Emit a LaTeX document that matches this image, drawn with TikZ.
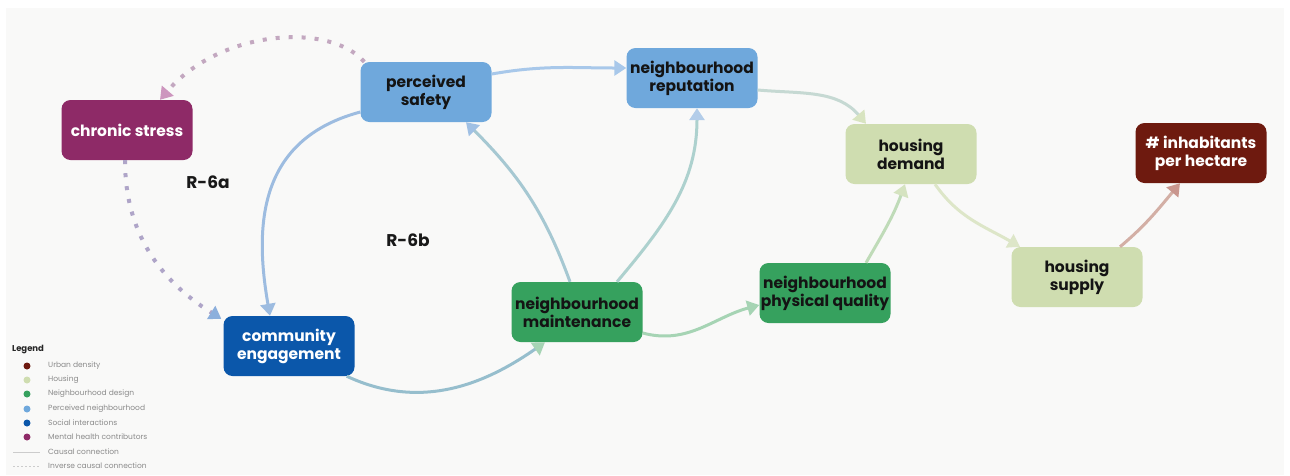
\documentclass[tikz,border=0pt]{standalone}
\usepackage{fontspec}
\setmainfont{Poppins}
\usetikzlibrary{arrows.meta}
\definecolor{bgc}{HTML}{F9F9F8}
\definecolor{cpurple}{HTML}{8E2A67}
\definecolor{cblue}{HTML}{6FA8DC}
\definecolor{csage}{HTML}{CFDDB0}
\definecolor{cmaroon}{HTML}{6E1A0F}
\definecolor{cgreen}{HTML}{36A15E}
\definecolor{cnavy}{HTML}{0B57AA}
\definecolor{legtxt}{HTML}{8A8A8A}
% edge colours
\definecolor{ePSNR}{HTML}{A8C8EA}
\definecolor{eNRHD}{HTML}{C6D9D3}
\definecolor{aNRHD}{HTML}{D8E4C0}
\definecolor{eHDHS}{HTML}{DDE6C8}
\definecolor{eHSIN}{HTML}{D3AFA5}
\definecolor{aHSIN}{HTML}{C9968E}
\definecolor{ePQHD}{HTML}{BFDBB8}
\definecolor{aPQHD}{HTML}{D5E3C0}
\definecolor{eMTPQ}{HTML}{A6D4B4}
\definecolor{eMTNR}{HTML}{ADD1CE}
\definecolor{aMTNR}{HTML}{B3CDE9}
\definecolor{eMTPS}{HTML}{A6C8D2}
\definecolor{aMTPS}{HTML}{A0C0E4}
\definecolor{ePSCE}{HTML}{9DBCE0}
\definecolor{eCEMT}{HTML}{96BECD}
\definecolor{aCEMT}{HTML}{A6D4B4}
\definecolor{ePSCS}{HTML}{C3A8C0}
\definecolor{aPSCS}{HTML}{CD96BE}
\definecolor{eCSCE}{HTML}{AFA5C8}
\definecolor{aCSCE}{HTML}{8CAFDC}
\tikzset{
  box/.style={rounded corners=9pt, minimum width=131pt, minimum height=60pt,
    align=center, inner sep=0pt, font=\bfseries\fontsize{15.5}{18}\selectfont},
  conn/.style={line width=3pt, draw=#1, -{Triangle[length=12pt,width=15pt]}},
  connab/.style 2 args={line width=3pt, draw=#1, -{Triangle[length=12pt,width=15pt,color=#2]}},
  dotconn/.style 2 args={line width=4pt, draw=#1, dash pattern=on 4pt off 9pt,
    -{Triangle[length=12pt,width=15pt,color=#2]}},
  legdot/.style={circle, inner sep=0pt, minimum size=7pt},
  legtext/.style={anchor=west, inner sep=0pt, text=legtxt, font=\fontsize{7.5}{9}\selectfont},
  looplabel/.style={font=\bfseries\fontsize{17}{19}\selectfont, text=black!90}
}
\begin{document}
\begin{tikzpicture}[x=1pt,y=-1pt]
\useasboundingbox (0,0) rectangle (1290,475);
\fill[white] (0,0) rectangle (1290,475);
\fill[bgc] (6,8) rectangle (1284,475);

% nodes
\node[box, fill=cpurple, text=white] (cs) at (127,130) {chronic stress};
\node[box, fill=cblue, text=black!92] (ps) at (426,92) {perceived\\safety};
\node[box, fill=cblue, text=black!92] (nr) at (692,78) {neighbourhood\\reputation};
\node[box, fill=csage, text=black!92] (hd) at (911,154) {housing\\demand};
\node[box, fill=cmaroon, text=white] (inh) at (1201,153) {\# inhabitants\\per hectare};
\node[box, fill=csage, text=black!92] (hs) at (1077,277) {housing\\supply};
\node[box, fill=cgreen, text=black!92] (pq) at (825,293) {neighbourhood\\physical quality};
\node[box, fill=cgreen, text=black!92] (mt) at (577,312) {neighbourhood\\maintenance};
\node[box, fill=cnavy, text=white] (ce) at (289,346) {community\\engagement};

\node[looplabel] (r6a) at (208,182) {R-6a};
\node[looplabel] (r6b) at (408,240) {R-6b};

% connectors
\draw[conn=ePSNR] ([yshift=18pt]ps.east) to[out=10,in=180] ([yshift=10pt]nr.west);
\draw[connab={eNRHD}{aNRHD}] ([yshift=-12pt]nr.east) to[out=-5,in=130] ([xshift=-45pt]hd.north);
\draw[conn=eHDHS] ([xshift=24pt]hd.south) to[out=-55,in=150] ([xshift=-57pt]hs.north);
\draw[connab={eHSIN}{aHSIN}] ([xshift=43pt]hs.north) to[out=40,in=-130] ([xshift=-21pt]inh.south);
\draw[connab={ePQHD}{aPQHD}] ([xshift=41pt]pq.north) to[out=60,in=-110] ([xshift=-6pt]hd.south);
\draw[conn=eMTPQ] ([yshift=-21pt]mt.east) to[out=-15,in=195] ([yshift=-12pt]pq.west);
\draw[connab={eMTNR}{aMTNR}] ([xshift=40pt]mt.north) to[out=50,in=-90] ([xshift=5pt]nr.south);
\draw[connab={eMTPS}{aMTPS}] ([xshift=-7pt]mt.north) to[out=110,in=-45] ([xshift=40pt]ps.south);
\draw[conn=ePSCE] ([yshift=-20pt]ps.west) to[out=195,in=100,looseness=1.15] ([xshift=-19pt]ce.north);
\draw[connab={eCEMT}{aCEMT}] ([xshift=-8pt]ce.south east) to[out=-25,in=215] ([xshift=-32pt]mt.south);
\draw[dotconn={ePSCS}{aPSCS}] ([xshift=4pt]ps.north west) .. controls +(-35,-40) and +(60,-70) .. ([xshift=33pt]cs.north);
\draw[dotconn={eCSCE}{aCSCE}] ([xshift=-2pt]cs.south) to[out=-90,in=148] ([xshift=-2pt,yshift=-3pt]ce.north west);

% legend
\node[anchor=west, inner sep=0pt, font=\bfseries\fontsize{8.5}{10}\selectfont, text=black!85] (leg) at (12,350) {Legend};
\node[legdot, fill=cmaroon] (d1) at (27,366) {};
\node[legtext] (t1) at (48,366) {Urban density};
\node[legdot, fill=csage] (d2) at (27,380) {};
\node[legtext] (t2) at (48,380) {Housing};
\node[legdot, fill=cgreen] (d3) at (27,394) {};
\node[legtext] (t3) at (48,394) {Neighbourhood design};
\node[legdot, fill=cblue] (d4) at (27,409) {};
\node[legtext] (t4) at (48,409) {Perceived neighbourhood};
\node[legdot, fill=cnavy] (d5) at (27,423) {};
\node[legtext] (t5) at (48,423) {Social interactions};
\node[legdot, fill=cpurple] (d6) at (27,437) {};
\node[legtext] (t6) at (48,437) {Mental health contributors};
\coordinate (l1a) at (13,452); \coordinate (l1b) at (40,452);
\draw[line width=0.6pt, draw=black!20] (l1a) -- (l1b);
\node[legtext] (t7) at (48,452) {Causal connection};
\coordinate (l2a) at (13,466); \coordinate (l2b) at (40,466);
\draw[line width=0.6pt, draw=black!20, dash pattern=on 2pt off 2pt] (l2a) -- (l2b);
\node[legtext] (t8) at (48,466) {Inverse causal connection};
\end{tikzpicture}
\end{document}
